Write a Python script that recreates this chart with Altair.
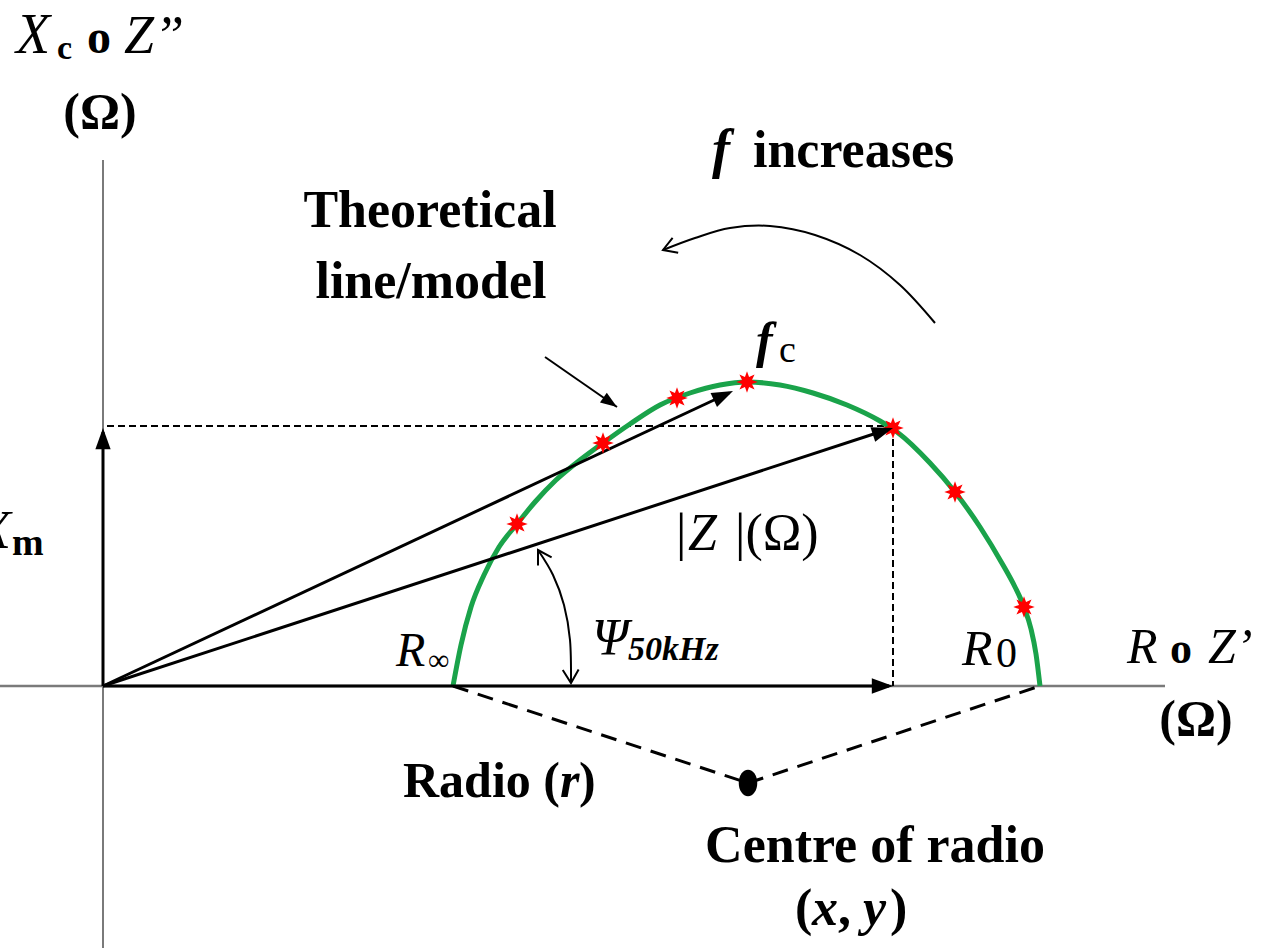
import math
import altair as alt
import pandas as pd

# ---------------------------------------------------------------------------
# Cole impedance plane (values in ohms; x = resistance R, y = reactance Xc)
# ---------------------------------------------------------------------------
R_INF = 350          # high-frequency intercept
R_ZERO = 937         # low-frequency intercept
CENTRE_R, CENTRE_X = 645, -97     # centre of the arc (below the real axis)
Z50_R, Z50_X = 790, 258           # impedance at 50 kHz
ZFC_R, ZFC_X = 630, 295           # vector towards the characteristic frequency

# theoretical Cole arc
arc_r = [350, 358, 368, 381, 396, 414, 432, 453, 477, 500, 527, 557, 587, 617,
         644, 677, 710, 744, 777, 794, 827, 852, 877, 900, 912, 921, 928, 933, 937]
arc_x = [0, 41, 79, 111, 139, 162, 184, 206, 226, 243, 262, 281, 293, 301,
         304, 301, 293, 281, 265, 254, 223, 194, 159, 121, 99, 79, 57, 32, 0]

# measured points along the arc
meas_r = [414, 500, 574, 644, 790, 852, 921]
meas_x = [162, 243, 288, 304, 258, 194, 79]

# "f increases" curved arrow and the phase-angle arc
freq_r = [832, 797, 757, 712, 667, 627, 592, 560]
freq_x = [363, 401, 431, 451, 460, 458, 448, 436]
psi_r = [435, 450, 461, 467, 468]
psi_x = [136, 111, 81, 46, 3]

# leader arrow from the model label to the curve
lead_r = [442, 514]
lead_x = [329, 279]

# ---------------------------------------------------------------------------
X_DOM = [-103, 1178]
Y_DOM = [-266, 686]
W, H = 1281, 952
FONT = "Liberation Serif"
GREEN = "#1AA34A"


def xs(field="x"):
    return alt.X(f"{field}:Q", scale=alt.Scale(domain=X_DOM, nice=False, zero=False), axis=None)


def ys(field="y"):
    return alt.Y(f"{field}:Q", scale=alt.Scale(domain=Y_DOM, nice=False, zero=False), axis=None)


def heading(p, q):
    """Screen angle (clockwise degrees) of the direction p -> q."""
    a = math.degrees(math.atan2(-(q[1] - p[1]), q[0] - p[0]))
    return a % 360


def segs(rows, color, width, dash=None):
    df = pd.DataFrame(rows, columns=["x", "y", "x2", "y2"])
    kw = dict(color=color, strokeWidth=width)
    if dash:
        kw["strokeDash"] = dash
    return alt.Chart(df).mark_rule(**kw).encode(
        x=xs(), y=ys(), x2="x2:Q", y2="y2:Q")


def path_line(r, x, color, width, interp="cardinal"):
    df = pd.DataFrame({"x": r, "y": x, "i": range(len(r))})
    return alt.Chart(df).mark_line(color=color, strokeWidth=width,
                                   interpolate=interp).encode(
        x=xs(), y=ys(), order="i:Q")


# arrowhead shapes (tip at the anchor point)
HEAD_FILLED = "M0,0L-1,-0.36L-1,0.36Z"
HEAD_OPEN = "M-1,-0.6L0,0L-1,0.6"

# eight-pointed star for the measurements
star_pts = []
for k in range(16):
    rad = 1.0 if k % 2 == 0 else 0.5
    ang = math.pi * k / 8 - math.pi / 2
    star_pts.append(f"{rad * math.cos(ang):.3f},{rad * math.sin(ang):.3f}")
STAR = "M" + "L".join(star_pts) + "Z"
ELLIPSE = "M0,-1A0.7,1,0,1,1,0,1A0.7,1,0,1,1,0,-1Z"

layers = []

# axes of the impedance plane
layers.append(segs([[-103, 0, 1062, 0]], "#7a7a7a", 2.5))
layers.append(segs([[0, 526, 0, -262]], "#7a7a7a", 2))

# projections of the 50 kHz point
layers.append(segs([[4, Z50_X + 2, Z50_R, Z50_X + 2],
                    [Z50_R, Z50_X, Z50_R, 0]], "black", 2, [7, 4]))

# radius lines to the arc centre
layers.append(segs([[R_INF, 0, CENTRE_R, CENTRE_X],
                    [CENTRE_R, CENTRE_X, R_ZERO, 0]], "black", 3, [16, 10]))

# theoretical arc
layers.append(path_line(arc_r, arc_x, GREEN, 5, "monotone"))

# vectors from the origin
layers.append(segs([[0, 0, Z50_R - 4, 0],
                    [0, 0, 0, Z50_X - 4],
                    [0, 0, ZFC_R - 4, ZFC_X - 2],
                    [0, 0, Z50_R - 4, Z50_X - 1]], "black", 3))

# thin annotation arrows
layers.append(path_line(freq_r, freq_x, "black", 2))
layers.append(path_line(psi_r, psi_x, "black", 2))
layers.append(segs([[lead_r[0], lead_x[0], lead_r[1], lead_x[1]]], "black", 2))

# measured points
meas = pd.DataFrame({"x": meas_r, "y": meas_x})
layers.append(alt.Chart(meas).mark_point(shape=STAR, size=460, filled=True,
                                         color="#FF0000", opacity=1).encode(x=xs(), y=ys()))

# filled arrowheads
heads = pd.DataFrame({
    "x": [Z50_R, 0, ZFC_R, Z50_R],
    "y": [0, Z50_X, ZFC_X, Z50_X],
    "a": [0, 270, heading((0, 0), (ZFC_R, ZFC_X)), heading((0, 0), (Z50_R, Z50_X))],
})
layers.append(alt.Chart(heads).mark_point(shape=HEAD_FILLED, size=1800, filled=True,
                                          color="black", opacity=1).encode(
    x=xs(), y=ys(), angle=alt.Angle("a:Q", scale=None)))

lead_head = pd.DataFrame({"x": [lead_r[1]], "y": [lead_x[1]],
                          "a": [heading((lead_r[0], lead_x[0]), (lead_r[1], lead_x[1]))]})
layers.append(alt.Chart(lead_head).mark_point(shape=HEAD_FILLED, size=1100, filled=True,
                                              color="black", opacity=1).encode(
    x=xs(), y=ys(), angle=alt.Angle("a:Q", scale=None)))

# open arrowheads on the curved arrows
open_heads = pd.DataFrame({
    "x": [freq_r[-1], psi_r[0], psi_r[-1]],
    "y": [freq_x[-1], psi_x[0], psi_x[-1]],
    "a": [heading((freq_r[-2], freq_x[-2]), (freq_r[-1], freq_x[-1])),
          heading((psi_r[1], psi_x[1]), (psi_r[0], psi_x[0])),
          heading((psi_r[-2], psi_x[-2]), (psi_r[-1], psi_x[-1]))],
})
layers.append(alt.Chart(open_heads).mark_point(shape=HEAD_OPEN, size=700, filled=False,
                                               color="black", strokeWidth=2, opacity=1).encode(
    x=xs(), y=ys(), angle=alt.Angle("a:Q", scale=None)))

# centre of the arc
centre = pd.DataFrame({"x": [CENTRE_R], "y": [CENTRE_X]})
layers.append(alt.Chart(centre).mark_point(shape=ELLIPSE, size=700, filled=True,
                                           color="black", opacity=1).encode(x=xs(), y=ys()))

# ---------------------------------------------------------------------------
# labels: text, x, y, font size, weight, style, align
labels = [
    ("X", -87, 633, 56, "normal", "italic", "left"),
    ("c", -46, 627, 34, "bold", "normal", "left"),
    ("o", -16, 633, 48, "bold", "normal", "left"),
    ("Z\u201d", 21, 633, 54, "normal", "italic", "left"),
    ("(\u03a9)", -3, 558, 50, "bold", "normal", "center"),
    ("X", -125, 138, 54, "normal", "italic", "left"),
    ("m", -91, 131, 38, "bold", "normal", "left"),
    ("Theoretical", 327, 459, 52, "bold", "normal", "center"),
    ("line/model", 328, 388, 52, "bold", "normal", "center"),
    ("f", 609, 519, 54, "bold", "italic", "left"),
    ("increases", 650, 519, 52, "bold", "normal", "left"),
    ("f", 653, 329, 50, "bold", "italic", "left"),
    ("c", 676, 324, 38, "normal", "normal", "left"),
    ("|", 573, 136, 52, "normal", "normal", "left"),
    ("Z", 585, 136, 52, "normal", "italic", "left"),
    ("|(\u03a9)", 632, 136, 52, "normal", "normal", "left"),
    ("R", 293, 20, 48, "normal", "italic", "left"),
    ("\u221e", 325, 16, 30, "normal", "normal", "left"),
    ("\u03a8", 489, 31, 52, "normal", "italic", "left"),
    ("50kHz", 525, 26, 34, "bold", "italic", "left"),
    ("R", 859, 21, 50, "normal", "italic", "left"),
    ("0", 893, 19, 42, "normal", "normal", "left"),
    ("R", 1024, 23, 50, "normal", "italic", "left"),
    ("o", 1067, 23, 44, "bold", "normal", "left"),
    ("Z\u2019", 1105, 23, 50, "normal", "italic", "left"),
    ("(\u03a9)", 1093, -49, 50, "bold", "normal", "center"),
    ("Radio (", 300, -111, 50, "bold", "normal", "left"),
    ("r", 457, -111, 50, "bold", "italic", "left"),
    (")", 476, -111, 50, "bold", "normal", "left"),
    ("Centre of radio", 772, -176, 52, "bold", "normal", "center"),
    ("(", 692, -239, 52, "bold", "normal", "left"),
    ("x", 709, -239, 52, "bold", "italic", "left"),
    (",", 735, -239, 52, "bold", "normal", "left"),
    ("y", 760, -239, 52, "bold", "italic", "left"),
    (")", 787, -239, 52, "bold", "normal", "left"),
]
lab = pd.DataFrame(labels, columns=["t", "x", "y", "s", "w", "st", "al"])
for (w, st, al), grp in lab.groupby(["w", "st", "al"]):
    layers.append(alt.Chart(grp).mark_text(font=FONT, fontWeight=w, fontStyle=st,
                                           align=al, baseline="alphabetic",
                                           color="black").encode(
        x=xs(), y=ys(), text="t:N", size=alt.Size("s:Q", scale=None)))

chart = alt.layer(*layers).properties(
    width=W, height=H, padding=0,
    autosize=alt.AutoSizeParams(type="none"),
    background="white",
).configure_view(stroke=None)

chart.save("out.html", embed_options={"renderer": "svg", "actions": False})
